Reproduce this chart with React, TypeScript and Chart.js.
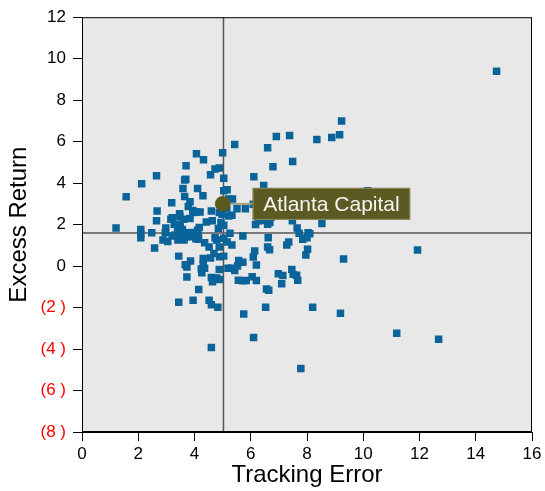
import React, { useEffect, useRef } from 'react';
import { Chart, registerables } from 'chart.js';

Chart.register(...registerables);

// Peer universe: tracking error (x) and excess return (y)
const trackingError = [
  14.74, 9.23, 9.16, 8.88, 8.35, 7.38, 6.91, 6.6, 7.49, 6.79,
  5.43, 5.0, 4.07, 4.32, 3.7, 2.65, 2.12, 1.57, 1.21, 2.09,
  2.09, 2.09, 2.48, 2.58, 2.67, 2.65, 3.19, 3.16, 2.98, 2.96,
  2.88, 3.05, 4.73, 4.88, 4.57, 5.04, 3.69, 3.65, 4.11, 3.59,
  4.3, 3.65, 5.04, 5.16, 5.35, 3.84, 3.78, 3.94, 4.07, 4.2,
  4.6, 4.88, 5.51, 5.81, 6.09, 6.11, 6.46, 10.15, 6.27, 6.17,
  6.6, 6.68, 7.48, 8.53, 7.65, 7.72, 8.04, 8.1, 7.85, 8.0,
  7.35, 7.28, 8.02, 7.96, 6.62, 6.6, 6.67, 5.72, 6.14, 6.09,
  6.2, 11.93, 9.3, 6.98, 7.14, 7.46, 7.63, 7.51, 7.67, 7.1,
  6.05, 6.2, 5.84, 5.56, 5.72, 6.56, 6.64, 6.53, 8.2, 9.19,
  5.75, 6.1, 11.19, 12.68, 7.78, 4.6, 4.83, 4.6, 4.52, 3.95,
  3.44, 4.15, 3.73, 4.26, 4.36, 4.31, 4.31, 3.86, 3.73, 3.67,
  3.44, 4.6, 4.64, 4.79, 4.89, 4.88, 5.04, 4.89, 4.57, 4.69,
  4.52, 4.36, 4.88, 4.73, 4.79, 5.04, 5.16, 5.33, 5.26, 5.19,
  5.33, 5.43, 5.57, 5.72, 5.53, 4.11, 4.05, 4.14, 3.84, 3.73,
  3.63, 3.56, 3.48, 3.41, 3.31, 3.21, 3.4, 3.49, 3.28, 3.48,
  3.62, 3.84, 3.95, 4.42, 4.63, 4.94, 5.04, 4.85, 4.98, 5.22,
  5.33, 5.15, 4.98, 5.22, 3.57, 3.92, 4.17, 3.71, 3.93, 4.14,
  3.47, 3.21, 4.24, 6.4, 6.72
];
const excessReturn = [
  9.39, 7.0, 6.33, 6.2, 6.1, 6.3, 6.25, 5.71, 5.04, 4.79,
  5.86, 5.47, 5.42, 5.13, 4.84, 4.36, 3.97, 3.34, 1.84, 1.76,
  1.55, 1.36, 1.61, 0.87, 2.66, 2.18, 3.05, 2.26, 1.84, 1.61,
  1.26, 1.19, 4.68, 4.73, 4.4, 4.23, 4.19, 4.15, 3.74, 3.74,
  3.39, 3.35, 3.63, 3.68, 3.23, 3.1, 2.87, 2.68, 2.61, 2.61,
  2.66, 2.58, 2.77, 2.77, 2.98, 4.31, 3.89, 3.63, 2.18, 2.0,
  2.02, 2.1, 2.18, 2.05, 1.84, 1.58, 1.61, 1.56, 1.29, 1.37,
  1.16, 1.02, 0.81, 0.53, 1.37, 0.92, 0.79, 1.45, 0.73, 0.44,
  0.05, 0.77, 0.34, -0.37, -0.45, -0.16, -0.44, -0.4, -0.68, -0.85,
  -0.52, -0.69, -0.69, -0.68, -0.71, -1.1, -1.16, -1.98, -1.98, -2.27,
  -2.31, -3.44, -3.24, -3.53, -4.94, -3.92, -1.98, -1.87, -1.65, -1.65,
  -1.74, -1.13, -0.53, -0.32, -0.11, 0.08, 0.37, 0.24, -0.05, 0.06,
  0.48, -0.55, -0.76, -0.58, -0.65, -0.16, 0.48, 0.45, 0.39, 0.61,
  0.92, 1.13, 0.92, 1.37, 1.26, 1.34, 1.16, 1.02, 1.58, -0.11,
  -0.11, -0.21, 0.27, 0.18, 0.0, 1.73, 1.32, 1.29, 1.42, 1.61,
  1.26, 1.45, 1.74, 1.26, 1.5, 1.45, 1.85, 2.02, 2.02, 2.39,
  2.26, 2.29, 2.58, 2.13, 2.18, 2.1, 1.97, 1.81, 2.5, 2.42,
  2.45, 2.79, 3.1, 3.23, 1.76, 1.62, 1.86, 1.43, 1.48, 1.43,
  2.52, 2.33, -0.14, 2.2, 2.35
];

const highlightName = 'Atlanta Capital';
const highlightTE = 5.0;
const highlightER = 3.0;

const medianTE = 5.03;
const medianER = 1.6;

const xTickValues = [0, 2, 4, 6, 8, 10, 12, 14, 16];
const yTickValues = [12, 10, 8, 6, 4, 2, 0, -2, -4, -6, -8];

const FONT = '"Liberation Sans", Arial, Helvetica, sans-serif';

export default function App() {
  const canvasRef = useRef<HTMLCanvasElement | null>(null);

  useEffect(() => {
    document.body.style.margin = '0';
    const canvas = canvasRef.current;
    if (!canvas) return;

    const points = trackingError.map((x, i) => ({ x, y: excessReturn[i] }));

    const decorPlugin = {
      id: 'decor',
      beforeDatasetsDraw(chart: any) {
        const { ctx, chartArea: a, scales } = chart;
        ctx.save();
        ctx.fillStyle = '#e8e8e8';
        ctx.fillRect(a.left, a.top, a.right - a.left, a.bottom - a.top);
        // median lines
        ctx.strokeStyle = '#555555';
        ctx.lineWidth = 1.5;
        const vx = scales.x.getPixelForValue(medianTE);
        const hy = scales.y.getPixelForValue(medianER);
        ctx.beginPath();
        ctx.moveTo(vx, a.top);
        ctx.lineTo(vx, a.bottom);
        ctx.moveTo(a.left, hy);
        ctx.lineTo(a.right, hy);
        ctx.stroke();
        // frame
        ctx.strokeStyle = '#000000';
        ctx.lineWidth = 1;
        ctx.strokeRect(a.left + 0.5, a.top + 0.5, a.right - a.left - 1, a.bottom - a.top - 1);
        ctx.restore();
      },
      afterDatasetsDraw(chart: any) {
        const { ctx, scales } = chart;
        const px = scales.x.getPixelForValue(highlightTE);
        const py = scales.y.getPixelForValue(highlightER);
        ctx.save();
        ctx.font = `21px ${FONT}`;
        const tw = ctx.measureText(highlightName).width;
        const bx = px + 30;
        const bw = tw + 21;
        const bh = 32;
        const by = py - bh / 2;
        ctx.strokeStyle = '#a3a07a';
        ctx.lineWidth = 2;
        ctx.beginPath();
        ctx.moveTo(px, py);
        ctx.lineTo(bx, py);
        ctx.stroke();
        ctx.fillStyle = '#5b5a22';
        ctx.fillRect(bx, by, bw, bh);
        ctx.strokeStyle = '#8f8d62';
        ctx.lineWidth = 1;
        ctx.strokeRect(bx + 0.5, by + 0.5, bw - 1, bh - 1);
        ctx.fillStyle = '#f5f5f0';
        ctx.textAlign = 'center';
        ctx.textBaseline = 'middle';
        ctx.fillText(highlightName, bx + bw / 2, py + 1);
        // redraw circle on top of connector
        ctx.fillStyle = '#5c5a1f';
        ctx.beginPath();
        ctx.arc(px, py, 7.5, 0, Math.PI * 2);
        ctx.fill();
        ctx.restore();
      },
    };

    const chart = new Chart(canvas, {
      type: 'scatter',
      data: {
        datasets: [
          {
            label: highlightName,
            data: [{ x: highlightTE, y: highlightER }],
            pointStyle: 'circle',
            pointRadius: 7.5,
            backgroundColor: '#5c5a1f',
            borderWidth: 0,
            order: 0,
          },
          {
            label: 'Peers',
            data: points,
            pointStyle: 'rect',
            pointRadius: 5.3,
            backgroundColor: '#0a6399',
            borderWidth: 0,
            order: 1,
          },
        ],
      },
      options: {
        responsive: false,
        animation: false,
        layout: { padding: { left: 0, top: 16, right: 13, bottom: 0 } },
        plugins: { legend: { display: false }, tooltip: { enabled: false } },
        scales: {
          x: {
            type: 'linear',
            min: 0,
            max: 16,
            afterFit: (s: any) => { s.height = 59; },
            afterBuildTicks: (s: any) => { s.ticks = xTickValues.map((v) => ({ value: v })); },
            grid: { drawOnChartArea: false, drawTicks: true, tickLength: 9, color: '#000000', lineWidth: 1 },
            border: { display: true, color: '#000000', width: 1 },
            ticks: { color: '#000000', font: { family: FONT, size: 17 }, padding: 3, maxRotation: 0 },
            title: {
              display: true,
              text: 'Tracking Error',
              color: '#000000',
              font: { family: FONT, size: 24 },
              padding: { top: 0, bottom: 1 },
            },
          },
          y: {
            type: 'linear',
            min: -8,
            max: 12,
            afterFit: (s: any) => { s.width = 82; },
            afterBuildTicks: (s: any) => { s.ticks = yTickValues.map((v) => ({ value: v })); },
            grid: { drawOnChartArea: false, drawTicks: true, tickLength: 9, color: '#000000', lineWidth: 1 },
            border: { display: true, color: '#000000', width: 1 },
            ticks: {
              font: { family: FONT, size: 17 },
              padding: 7,
              color: (c: any) => (c.tick && c.tick.value < 0 ? '#ff0000' : '#000000'),
              callback: (v: any) => (Number(v) < 0 ? `(${-Number(v)} )` : String(v)),
            },
            title: {
              display: true,
              text: 'Excess Return',
              color: '#000000',
              font: { family: FONT, size: 24 },
              padding: { top: 5, bottom: 0 },
            },
          },
        },
      },
      plugins: [decorPlugin],
    });

    return () => chart.destroy();
  }, []);

  return (
    <div style={{ width: 545, height: 491 }}>
      <canvas ref={canvasRef} width={545} height={491} style={{ display: 'block' }} />
    </div>
  );
}
